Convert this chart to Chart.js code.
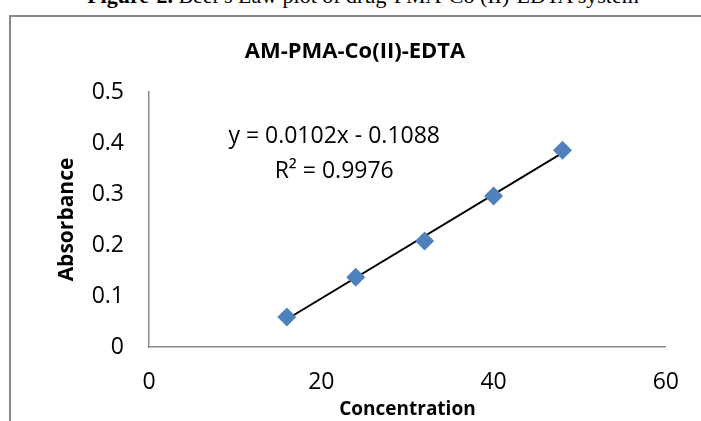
<!DOCTYPE html>
<html>
<head>
<meta charset="utf-8">
<script src="https://cdn.jsdelivr.net/npm/chart.js@4.4.0/dist/chart.umd.min.js"></script>
<style>
  html, body { margin: 0; padding: 0; background: #fff; }
  #wrap { position: relative; width: 701px; height: 421px; overflow: hidden; }
  #caption { position: absolute; left: 0; width: 726px; top: -17px; text-align: center;
    font-family: "Liberation Serif", "Times New Roman", serif; font-size: 22px; line-height: 25px; color: #000; white-space: nowrap; }
  #frame { position: absolute; left: 9px; top: 15px; width: 720px; height: 440px; border: 2px solid #8a8a8a; background: #fff; }
  #c { position: absolute; left: 0; top: 0; }
</style>
</head>
<body>
<div id="wrap">
  <div id="caption"><b>Figure-2.</b> Beer's Law plot of drug-PMA-Co (II)-EDTA system</div>
  <div id="frame"></div>
  <canvas id="c" width="701" height="421"></canvas>
</div>
<script>
// ---- data ----
const chartTitle = "AM-PMA-Co(II)-EDTA";
const xAxisTitle = "Concentration";
const yAxisTitle = "Absorbance";
const concentration = [16, 24, 32, 40, 48];
const absorbance = [0.059, 0.137, 0.208, 0.296, 0.386];
const trendX = [16, 48];
const trendY = [0.0544, 0.3808];
const xTicks = [0, 20, 40, 60];
const yTicks = [0, 0.1, 0.2, 0.3, 0.4, 0.5];
const equationLines = ["y = 0.0102x - 0.1088", "R\u00B2 = 0.9976"];
const equationAnchor = [21.5, 0.413]; // data coords of first line center

const FONT = '"Open Sans", "Liberation Sans", sans-serif';

const eqPlugin = {
  id: 'eq',
  afterDatasetsDraw(chart) {
    const {ctx, scales: {x, y}} = chart;
    const px = x.getPixelForValue(equationAnchor[0]);
    const py = y.getPixelForValue(equationAnchor[1]);
    ctx.save();
    ctx.fillStyle = '#000';
    ctx.font = '23px ' + FONT;
    ctx.textAlign = 'center';
    ctx.textBaseline = 'middle';
    equationLines.forEach((t, i) => ctx.fillText(t, px, py + i * 35));
    ctx.restore();
  }
};

new Chart(document.getElementById('c'), {
  type: 'scatter',
  data: {
    datasets: [
      {
        label: 'trend',
        type: 'line',
        data: trendX.map((v, i) => ({x: v, y: trendY[i]})),
        borderColor: '#000',
        borderWidth: 2,
        pointRadius: 0,
        fill: false,
        order: 2
      },
      {
        label: 'data',
        data: concentration.map((v, i) => ({x: v, y: absorbance[i]})),
        pointStyle: 'rectRot',
        pointRadius: 9.5,
        pointHoverRadius: 9.5,
        backgroundColor: '#4F81BD',
        borderColor: '#4F81BD',
        borderWidth: 0,
        order: 1
      }
    ]
  },
  options: {
    responsive: false,
    animation: false,
    events: [],
    layout: { padding: { left: 38, right: 29, top: 0, bottom: 0 } },
    plugins: {
      legend: { display: false },
      tooltip: { enabled: false },
      title: {
        display: true,
        text: chartTitle,
        color: '#000',
        font: { family: FONT, size: 22, weight: 'bold', lineHeight: 1.2 },
        padding: { top: 38.8, bottom: 26.8 }
      }
    },
    scales: {
      x: {
        type: 'linear',
        min: 0, max: 60,
        afterBuildTicks: s => { s.ticks = xTicks.map(v => ({value: v})); },
        afterFit: s => { s.height = 74; },
        grid: { display: false, drawTicks: false },
        border: { display: true, color: '#8a8a8a', width: 1.5 },
        ticks: { color: '#000', padding: 22, font: { family: FONT, size: 23 }, maxRotation: 0 },
        title: { display: true, text: xAxisTitle, color: '#000',
          font: { family: FONT, size: 19, weight: 'bold', lineHeight: 1.2 }, padding: { top: 0, bottom: 0 } }
      },
      y: {
        type: 'linear',
        min: 0, max: 0.5,
        afterBuildTicks: s => { s.ticks = yTicks.map(v => ({value: v})); },
        afterFit: s => { s.width = 111; },
        grid: { display: false, drawTicks: false },
        border: { display: true, color: '#8a8a8a', width: 1.5 },
        ticks: { color: '#000', padding: 25, font: { family: FONT, size: 23 } },
        title: { display: true, text: yAxisTitle, color: '#000',
          font: { family: FONT, size: 21, weight: 'bold', lineHeight: 1.2 }, padding: { top: 16.4, bottom: 0 } }
      }
    }
  },
  plugins: [eqPlugin]
});
</script>
</body>
</html>
